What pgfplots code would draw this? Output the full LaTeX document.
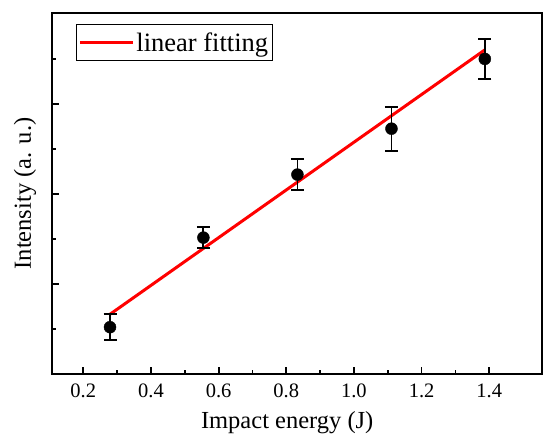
\documentclass[border=0pt]{standalone}
\usepackage{fontspec}
\setmainfont{Liberation Serif}
\usepackage{pgfplots}
\pgfplotsset{compat=1.18}

\begin{document}
\begin{tikzpicture}
\path[use as bounding box] (-52pt,-62pt) rectangle (492pt,374pt);
\begin{axis}[
  at={(0pt,0pt)}, anchor=south west,
  width=490pt, height=361pt, scale only axis,
  xmin=0.1075, xmax=1.556, ymin=0, ymax=8.02,
  xtick={0.2,0.4,0.6,0.8,1.0,1.2,1.4},
  minor xtick={0.3,0.5,0.7,0.9,1.1,1.3},
  ytick={2,4,6}, minor ytick={1,3,5,7},
  yticklabels={},
  xtick pos=bottom, ytick pos=left,
  tick align=inside,
  major tick length=7pt, minor tick length=4pt,
  tick style={black, line width=1.8pt},
  axis line style={black, line width=2pt},
  xticklabel style={/pgf/number format/fixed, /pgf/number format/fixed zerofill,
    /pgf/number format/precision=1, yshift=-6pt},
  /pgf/number format/assume math mode=true,
  ticklabel style={font=\fontsize{20.5}{24}\selectfont},
  label style={font=\fontsize{24.5}{29}\selectfont},
  xlabel={Impact energy (J)},
  ylabel={Intensity (a. u.)},
  xlabel style={at={(axis description cs:0.48,-0.1496)}, anchor=base},
  ylabel style={at={(axis description cs:-0.025,0.5)}, anchor=south},
  legend style={at={(axis description cs:0.049,0.9695)}, anchor=north west,
    draw=black, line width=0.8pt, inner xsep=2pt, inner ysep=6pt,
    font=\fontsize{26.5}{30}\selectfont,
    nodes={inner sep=2pt}},
  legend cell align=left,
  legend image code/.code={\draw[#1, line width=3pt] (0pt,0pt) -- (53pt,0pt);},
]
\addplot[red, line width=3pt] coordinates {(0.279,1.327) (1.387,7.2)};
\addlegendentry{linear fitting}
\addplot[only marks, mark=*, mark size=6pt, black,
  error bars/.cd, y dir=both, y explicit,
  error bar style={line width=1.8pt, black},
  error mark options={rotate=90, mark size=6.5pt, line width=1.8pt, black}]
  coordinates {
  (0.279,1.04) +- (0,0.285)
  (0.555,3.03) +- (0,0.233)
  (0.833,4.43) +- (0,0.35)
  (1.111,5.45) +- (0,0.49)
  (1.387,7.00) +- (0,0.45)
  };
\end{axis}
\end{tikzpicture}
\end{document}
